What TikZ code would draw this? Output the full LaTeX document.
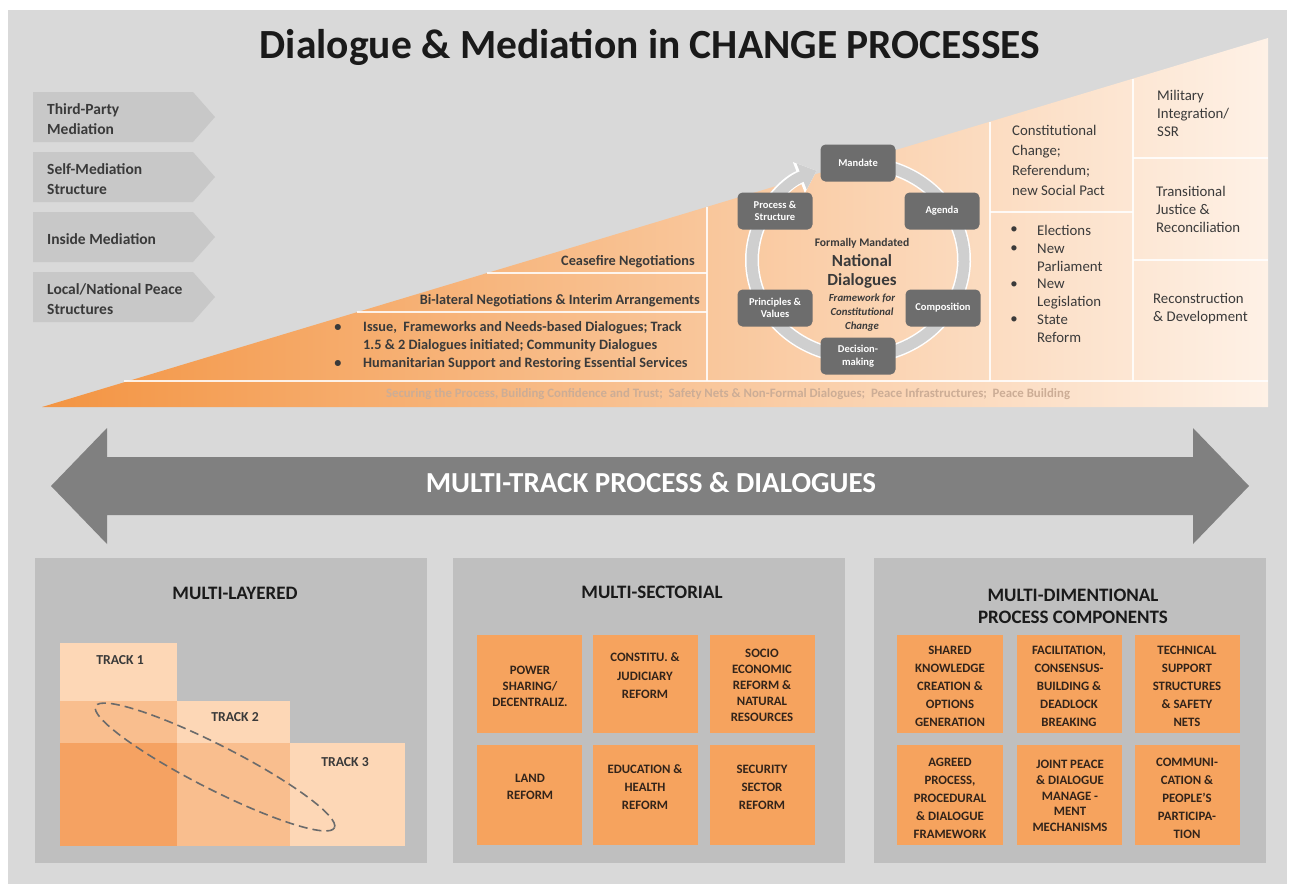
\documentclass[tikz,border=0pt]{standalone}
\usepackage{fontspec}
\setmainfont{Carlito}
\usetikzlibrary{arrows.meta}
\definecolor{bgc}{HTML}{D9D9D9}
\definecolor{chevc}{HTML}{C8C8C8}
\definecolor{txtc}{HTML}{3A3A3A}
\definecolor{titlec}{HTML}{1A1A1A}
\definecolor{wA}{HTML}{F39442}
\definecolor{wB}{HTML}{FAC092}
\definecolor{wC}{HTML}{FEF1E6}
\definecolor{panelc}{HTML}{BFBFBF}
\definecolor{oboxc}{HTML}{F6A35E}
\definecolor{trL}{HTML}{FDD7B6}
\definecolor{trM}{HTML}{F9BE8E}
\definecolor{trD}{HTML}{F5A262}
\definecolor{arrc}{HTML}{808080}
\definecolor{ndc}{HTML}{6D6D6D}
\definecolor{ringc}{HTML}{CFCFCF}
\definecolor{stripc}{HTML}{CCAD96}
\definecolor{boxtxt}{HTML}{33241A}
\begin{document}
\begin{tikzpicture}[x=1pt,y=-1pt,
  chevtxt/.style={anchor=west,align=left,text=txtc,font=\bfseries\fontsize{15.5}{20}\selectfont,inner sep=0pt},
  wtxt/.style={text=txtc,font=\bfseries\fontsize{14.3}{18}\selectfont,inner sep=0pt},
  rtxt/.style={anchor=west,align=left,text=txtc,font=\fontsize{14.8}{18}\selectfont,inner sep=0pt},
  wline/.style={draw=white,line width=1.3pt,opacity=0.85},
  ndbox/.style={fill=ndc,rounded corners=5pt,minimum width=75pt,minimum height=37pt,text=white,align=center,font=\bfseries\fontsize{10.5}{12.5}\selectfont,inner sep=1pt},
  ptitle/.style={text=titlec,align=center,font=\bfseries\fontsize{19}{22}\selectfont,inner sep=0pt},
  obox/.style={fill=oboxc},
  otxt/.style={text=boxtxt,align=center,font=\bfseries\fontsize{12.8}{17}\selectfont,inner sep=0pt},
  trk/.style={text=txtc,font=\bfseries\fontsize{13.7}{15}\selectfont,inner sep=0pt}
]
\useasboundingbox (0,0) rectangle (1293,892);
\fill[white] (0,0) rectangle (1293,892);
\fill[bgc] (8,10) rectangle (1287,884);

% title
\node[text=titlec,font=\bfseries\fontsize{41.5}{44}\selectfont] (title) at (650,47) {Dialogue \& Mediation in CHANGE PROCESSES};

% chevrons
\foreach \t/\nm/\lab in {92/c1/{Third-Party\\Mediation},152/c2/{Self-Mediation\\Structure},212/c3/{Inside Mediation},272/c4/{Local/National Peace\\Structures}}{
  \fill[chevc] (33,\t) -- (193,\t) -- (215,\t+25) -- (193,\t+50) -- (33,\t+50) -- cycle;
  \node[chevtxt] (\nm) at (47,\t+27) {\lab};
}

% wedge
\shade[left color=wA,middle color=wB,right color=wC] (42,407) -- (1268,38) -- (1268,407) -- cycle;
\draw[wline] (124,381) -- (1268,381);
\draw[wline] (707,207) -- (707,381);
\draw[wline] (990,122) -- (990,381);
\draw[wline] (1133,79) -- (1133,381);
\draw[wline] (487,273) -- (707,273);
\draw[wline] (357,312) -- (707,312);
\draw[wline] (990,212) -- (1133,212);
\draw[wline] (1133,158) -- (1268,158);
\draw[wline] (1133,260) -- (1268,260);

% left wedge texts
\node[wtxt,anchor=east] (cease) at (695,262) {Ceasefire Negotiations};
\node[wtxt,anchor=east] (bilat) at (700,301) {Bi-lateral Negotiations \& Interim Arrangements};
\node[wtxt] (b1) at (338,328) {\textbullet};
\node[wtxt] (b2) at (338,364) {\textbullet};
\node[wtxt,anchor=west,align=left] (iss) at (363,337) {Issue,~ Frameworks and Needs-based Dialogues; Track\\1.5 \& 2 Dialogues initiated; Community Dialogues};
\node[wtxt,anchor=west] (hum) at (363,364) {Humanitarian Support and Restoring Essential Services};

% strip text
\node[text=stripc,font=\bfseries\fontsize{12.8}{14}\selectfont,inner sep=0pt] (strip) at (728,394) {Securing the Process, Building Confidence and Trust;~ Safety Nets \& Non-Formal Dialogues;~ Peace Infrastructures;~ Peace Building};

% ring
\draw[white,line width=14pt,-{Triangle[length=19pt,width=32pt]}] (858,260) ++(-80:106 and 97) arc[start angle=-80,end angle=247,x radius=106,y radius=97];
\draw[ringc,line width=11pt,-{Triangle[length=16pt,width=27pt]}] (858,260) ++(-80:106 and 97) arc[start angle=-80,end angle=247,x radius=106,y radius=97];

\node[ndbox] (mandate) at (858,163) {Mandate};
\node[ndbox] (agenda) at (942,211) {Agenda};
\node[ndbox] (proc) at (775,211) {Process \&\\Structure};
\node[ndbox] (princ) at (775,308) {Principles \&\\Values};
\node[ndbox] (comp) at (943,308) {Composition};
\node[ndbox] (dec) at (858,356) {Decision-\\making};

\node[text=txtc,font=\bfseries\fontsize{11.6}{13}\selectfont,inner sep=0pt] (fm) at (862,243) {Formally Mandated};
\node[text=txtc,align=center,font=\bfseries\fontsize{17}{19}\selectfont,inner sep=0pt] (nd) at (862,271) {National\\Dialogues};
\node[text=txtc,align=center,font=\bfseries\itshape\fontsize{10.8}{14}\selectfont,inner sep=0pt] (fw) at (862,313) {Framework for\\Constitutional\\Change};

% right texts
\node[rtxt,font=\fontsize{14.8}{20}\selectfont] (const) at (1012,160) {Constitutional\\Change;\\Referendum;\\new Social Pact};
\foreach \y/\nm in {230/r1,249/r2,285/r3,320/r4}{
  \node[rtxt,anchor=center] (\nm) at (1014,\y) {\textbullet};
}
\node[rtxt] (el) at (1037,230) {Elections};
\node[rtxt] (np) at (1037,257.5) {New\\Parliament};
\node[rtxt] (nl) at (1037,294) {New\\Legislation};
\node[rtxt] (sr) at (1037,329) {State\\Reform};
\node[rtxt] (mil) at (1157,113) {Military\\Integration/\\SSR};
\node[rtxt] (tj) at (1156,209) {Transitional\\Justice \&\\Reconciliation};
\node[rtxt] (rd) at (1153,308.5) {Reconstruction\\\& Development};

% big arrow
\fill[arrc] (51,486) -- (107,428) -- (107,457) -- (1193,457) -- (1193,428) -- (1249,486) -- (1193,544) -- (1193,515) -- (107,515) -- (107,544) -- cycle;
\node[text=white,font=\bfseries\fontsize{29}{31}\selectfont,inner sep=0pt] (mt) at (651,483) {MULTI-TRACK PROCESS \& DIALOGUES};

% panels
\fill[panelc] (35,558) rectangle (427,863);
\fill[panelc] (453,558) rectangle (845,863);
\fill[panelc] (874,558) rectangle (1266,863);
\node[ptitle] (p1) at (235,593) {MULTI-LAYERED};
\node[ptitle] (p2) at (652,592) {MULTI-SECTORIAL};
\node[ptitle] (p3) at (1073,606) {MULTI-DIMENTIONAL\\PROCESS COMPONENTS};

% tracks
\fill[trL] (60,643) rectangle (177,701);
\fill[trM] (60,701) rectangle (177,743);
\fill[trD] (60,743) rectangle (177,846);
\fill[trL] (177,701) rectangle (290,743);
\fill[trM] (177,743) rectangle (290,846);
\fill[trL] (290,743) rectangle (405,846);
\node[trk] (t1) at (120,660) {TRACK 1};
\node[trk] (t2) at (235,717) {TRACK 2};
\node[trk] (t3) at (345,762) {TRACK 3};
\draw[draw=black!58,line width=1.6pt,dash pattern=on 9pt off 5pt,rotate around={-27:(215,767)}] (215,767) ellipse [x radius=134,y radius=22];

% sector boxes
\foreach \xa/\xb in {477/582,593/698,710/815}{
  \fill[obox] (\xa,635) rectangle (\xb,733);
  \fill[obox] (\xa,745) rectangle (\xb,845);
}
\node[otxt,font=\bfseries\fontsize{12.8}{16}\selectfont] (s1) at (530,686) {POWER\\SHARING/\\DECENTRALIZ.};
\node[otxt,font=\bfseries\fontsize{12.8}{18.5}\selectfont] (s2) at (645,676) {CONSTITU. \&\\JUDICIARY\\REFORM};
\node[otxt,font=\bfseries\fontsize{12.8}{16}\selectfont] (s3) at (762,685) {SOCIO\\ECONOMIC\\REFORM \&\\NATURAL\\RESOURCES};
\node[otxt] (s4) at (530,787) {LAND\\REFORM};
\node[otxt,font=\bfseries\fontsize{12.8}{18}\selectfont] (s5) at (645,787) {EDUCATION \&\\HEALTH\\REFORM};
\node[otxt,font=\bfseries\fontsize{12.8}{18}\selectfont] (s6) at (762,787) {SECURITY\\SECTOR\\REFORM};

% dimension boxes
\foreach \xa/\xb in {897/1003,1017/1122,1135/1240}{
  \fill[obox] (\xa,635) rectangle (\xb,733);
  \fill[obox] (\xa,745) rectangle (\xb,845);
}
\node[otxt,font=\bfseries\fontsize{12.8}{18}\selectfont] (d1) at (950,686) {SHARED\\KNOWLEDGE\\CREATION \&\\OPTIONS\\GENERATION};
\node[otxt,font=\bfseries\fontsize{12.8}{18}\selectfont] (d2) at (1069,686) {FACILITATION,\\CONSENSUS-\\BUILDING \&\\DEADLOCK\\BREAKING};
\node[otxt,font=\bfseries\fontsize{12.8}{18}\selectfont] (d3) at (1187,686) {TECHNICAL\\SUPPORT\\STRUCTURES\\\& SAFETY\\NETS};
\node[otxt,font=\bfseries\fontsize{12.8}{18}\selectfont] (d4) at (950,798) {AGREED\\PROCESS,\\PROCEDURAL\\\& DIALOGUE\\FRAMEWORK};
\node[otxt,font=\bfseries\fontsize{12.8}{15.7}\selectfont] (d5) at (1070,796) {JOINT PEACE\\\& DIALOGUE\\MANAGE -\\MENT\\MECHANISMS};
\node[otxt,font=\bfseries\fontsize{12.8}{18}\selectfont] (d6) at (1187,798) {COMMUNI-\\CATION \&\\PEOPLE'S\\PARTICIPA-\\TION};
\end{tikzpicture}
\end{document}
